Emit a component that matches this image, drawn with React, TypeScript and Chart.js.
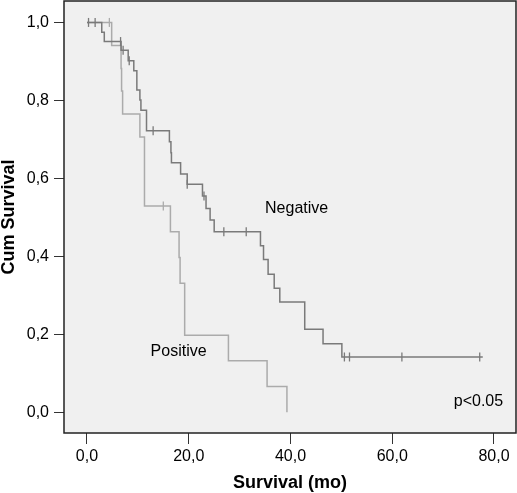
import React, { useEffect, useRef } from "react";
import { Chart, registerables } from "chart.js";
Chart.register(...registerables);

// Kaplan-Meier step data (time in months, cumulative survival)
const negTimes = [0, 2.9, 3.4, 6.7, 8.1, 9.2, 9.8, 10.4, 10.6, 11.7, 16.2, 16.5, 16.6, 18.4, 19.7, 22.7, 23.4, 24.2, 25.0, 34.1, 34.7, 35.6, 36.8, 37.9, 42.8, 46.4, 50.1, 77.8];
const negSurv = [1.0, 0.975, 0.951, 0.929, 0.902, 0.876, 0.827, 0.801, 0.775, 0.722, 0.694, 0.666, 0.64, 0.611, 0.585, 0.555, 0.523, 0.493, 0.463, 0.427, 0.392, 0.354, 0.318, 0.283, 0.213, 0.176, 0.142, 0.142];
const negCensTimes = [0.3, 1.6, 6.6, 7.1, 8.3, 13.0, 19.7, 23.0, 26.9, 31.3, 50.6, 51.6, 61.9, 77.2];
const negCensSurv = [1.0, 1.0, 0.951, 0.929, 0.902, 0.722, 0.585, 0.555, 0.463, 0.463, 0.142, 0.142, 0.142, 0.142];

const posTimes = [0, 4.85, 6.7, 6.8, 7.0, 10.4, 11.3, 16.4, 18.1, 18.3, 19.2, 27.8, 35.4, 39.3];
const posSurv = [1.0, 0.941, 0.882, 0.824, 0.765, 0.706, 0.529, 0.463, 0.397, 0.331, 0.198, 0.132, 0.066, 0.0];
const posCensTimes = [4.4, 15.0];
const posCensSurv = [1.0, 0.529];

const xTicks = [0, 20, 40, 60, 80];
const yTicks = [0, 0.2, 0.4, 0.6, 0.8, 1.0];

const labels = [
  { text: "Negative", x: 35.0, y: 0.523 },
  { text: "Positive", x: 12.5, y: 0.155 },
  { text: "p<0.05", x: 72.1, y: 0.027 },
];

const NEG_COLOR = "#7a7a7a";
const POS_COLOR = "#ababab";
const FONT = "Arial, 'Liberation Sans', sans-serif";

// plot frame inside the 517x493 canvas
const AREA = { left: 64, top: 1, right: 516, bottom: 433 };

const pts = (xs: number[], ys: number[]) => xs.map((x, i) => ({ x, y: ys[i] }));
const fmt = (v: number) => v.toFixed(1).replace(".", ",");

export default function App() {
  const ref = useRef<HTMLCanvasElement>(null);
  useEffect(() => {
    if (!ref.current) return;
    const bgPlugin = {
      id: "kmbg",
      afterLayout(chart: any) {
        const a = chart.chartArea;
        a.left = AREA.left;
        a.top = AREA.top;
        a.right = AREA.right;
        a.bottom = AREA.bottom;
        a.width = a.right - a.left;
        a.height = a.bottom - a.top;
        const xs = chart.scales.x;
        const ys = chart.scales.y;
        xs.left = AREA.left;
        xs.right = AREA.right;
        xs.width = AREA.right - AREA.left;
        xs.top = AREA.bottom;
        xs.configure();
        ys.top = AREA.top;
        ys.bottom = AREA.bottom;
        ys.height = AREA.bottom - AREA.top;
        ys.right = AREA.left;
        ys.configure();
      },
      beforeDraw(chart: any) {
        const { ctx, chartArea: a } = chart;
        ctx.save();
        ctx.fillStyle = "#ffffff";
        ctx.fillRect(0, 0, chart.width, chart.height);
        ctx.fillStyle = "#f0f0f0";
        ctx.fillRect(a.left, a.top, a.right - a.left, a.bottom - a.top);
        ctx.restore();
      },
      afterDraw(chart: any) {
        const { ctx, chartArea: a } = chart;
        ctx.save();
        ctx.strokeStyle = "#222";
        ctx.lineWidth = 1.5;
        ctx.strokeRect(a.left, a.top, a.right - a.left, a.bottom - a.top);
        ctx.fillStyle = "#000";
        ctx.font = `16px ${FONT}`;
        ctx.textBaseline = "middle";
        ctx.textAlign = "left";
        const xs = chart.scales.x;
        const ys = chart.scales.y;
        labels.forEach((l) => {
          ctx.fillText(l.text, xs.getPixelForValue(l.x), ys.getPixelForValue(l.y));
        });
        ctx.restore();
      },
    };
    const chart = new Chart(ref.current, {
      type: "scatter",
      data: {
        datasets: [
          {
            data: pts(negTimes, negSurv),
            showLine: true,
            stepped: "before",
            borderColor: NEG_COLOR,
            borderWidth: 1.5,
            pointRadius: 0,
            order: 1,
          },
          {
            data: pts(negCensTimes, negCensSurv),
            showLine: false,
            pointStyle: "line",
            rotation: 90,
            pointRadius: 4.5,
            borderColor: NEG_COLOR,
            borderWidth: 1.3,
            order: 1,
          },
          {
            data: pts(posTimes, posSurv),
            showLine: true,
            stepped: "before",
            borderColor: POS_COLOR,
            borderWidth: 1.5,
            pointRadius: 0,
            order: 2,
          },
          {
            data: pts(posCensTimes, posCensSurv),
            showLine: false,
            pointStyle: "line",
            rotation: 90,
            pointRadius: 4.5,
            borderColor: POS_COLOR,
            borderWidth: 1.3,
            order: 2,
          },
        ] as any,
      },
      options: {
        animation: false,
        responsive: false,
        devicePixelRatio: 1,
        layout: { padding: { top: 1, right: 1, left: 0, bottom: 0 } },
        plugins: { legend: { display: false }, tooltip: { enabled: false } },
        scales: {
          x: {
            type: "linear",
            min: -4.52,
            max: 84.33,
            afterBuildTicks: (s: any) => {
              s.ticks = xTicks.map((v) => ({ value: v }));
            },
            afterFit: (s: any) => {
              s.height = 60;
            },
            grid: { drawOnChartArea: false, drawTicks: true, tickLength: 11, color: "#333", lineWidth: 1 },
            border: { display: false },
            ticks: {
              color: "#000",
              font: { family: FONT, size: 16 },
              padding: 3,
              maxRotation: 0,
              callback: (v: any) => fmt(Number(v)),
            },
            title: {
              display: true,
              text: "Survival (mo)",
              color: "#000",
              font: { family: FONT, size: 18, weight: "bold", lineHeight: 1 },
              padding: { top: 0, bottom: 1 },
            },
          },
          y: {
            type: "linear",
            min: -0.053,
            max: 1.055,
            afterBuildTicks: (s: any) => {
              s.ticks = yTicks.map((v) => ({ value: v }));
            },
            afterFit: (s: any) => {
              s.width = 64;
            },
            grid: { drawOnChartArea: false, drawTicks: true, tickLength: 10, color: "#333", lineWidth: 1 },
            border: { display: false },
            ticks: {
              color: "#000",
              font: { family: FONT, size: 16 },
              padding: 5,
              callback: (v: any) => fmt(Number(v)),
            },
            title: {
              display: true,
              text: "Cum Survival",
              color: "#000",
              font: { family: FONT, size: 18, weight: "bold", lineHeight: 1 },
              padding: { top: 0, bottom: 0 },
            },
          },
        },
      } as any,
      plugins: [bgPlugin],
    });
    return () => chart.destroy();
  }, []);
  return (
    <div style={{ position: "fixed", left: 0, top: 0, width: 517, height: 493 }}>
      <canvas ref={ref} width={517} height={493} />
    </div>
  );
}
